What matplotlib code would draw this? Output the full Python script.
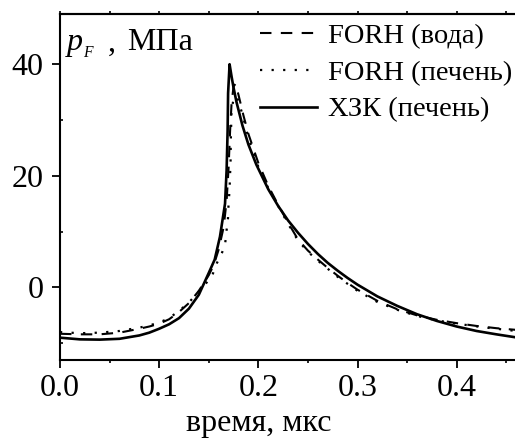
import matplotlib
matplotlib.use("Agg")
import matplotlib.pyplot as plt
from matplotlib.ticker import MultipleLocator, FuncFormatter

plt.rcParams['font.family'] = ['Liberation Serif', 'DejaVu Serif']
plt.rcParams['mathtext.fontset'] = 'custom'
plt.rcParams['mathtext.it'] = 'Liberation Serif:italic'
plt.rcParams['mathtext.rm'] = 'Liberation Serif'

# ХЗК (печень) - solid
t_kzk = [0.0, 0.02, 0.04, 0.06, 0.08, 0.09, 0.10, 0.11, 0.12, 0.13, 0.14, 0.15,
         0.156, 0.1613, 0.1664, 0.168, 0.169, 0.1695, 0.171, 0.173, 0.175, 0.178,
         0.184, 0.19, 0.198, 0.21, 0.22, 0.23, 0.24, 0.25, 0.26, 0.27, 0.28,
         0.29, 0.30, 0.32, 0.34, 0.36, 0.38, 0.40, 0.42, 0.44, 0.46]
p_kzk = [-9.0, -9.3, -9.35, -9.2, -8.6, -8.1, -7.4, -6.6, -5.5, -3.8, -1.3, 2.6,
         5.0, 9.1, 15.0, 21.0, 28.0, 34.8, 40.0, 37.8, 35.8, 33.2,
         29.0, 25.6, 22.0, 17.6, 14.6, 12.0, 9.8, 7.8, 6.0, 4.4, 3.0,
         1.7, 0.5, -1.6, -3.3, -4.8, -6.0, -7.0, -7.8, -8.4, -8.95]

# FORH (вода) - dashed
t_water = [0.0, 0.02, 0.04, 0.06, 0.08, 0.09, 0.10, 0.11, 0.12, 0.13, 0.14, 0.15,
           0.155, 0.16, 0.165, 0.168, 0.170, 0.1715, 0.173, 0.175, 0.177, 0.18,
           0.185, 0.19, 0.20, 0.21, 0.22, 0.23, 0.24, 0.25, 0.26, 0.27, 0.28,
           0.29, 0.30, 0.32, 0.34, 0.36, 0.38, 0.40, 0.42, 0.44, 0.46]
p_water = [-8.3, -8.4, -8.4, -8.1, -7.4, -7.0, -6.5, -5.7, -4.4, -2.8, -0.6, 2.2,
           4.0, 6.8, 10.8, 15.5, 21.5, 28.0, 33.0, 36.0, 36.5, 34.5,
           30.8, 27.5, 22.3, 18.2, 14.8, 11.6, 8.6, 6.6, 5.0, 3.5, 2.1,
           0.8, -0.4, -2.4, -3.9, -5.0, -5.8, -6.4, -6.9, -7.3, -7.6]

# FORH (печень) - dotted
t_liver = [0.0, 0.02, 0.04, 0.06, 0.08, 0.09, 0.10, 0.11, 0.12, 0.13, 0.14, 0.153,
           0.158, 0.1624, 0.1664, 0.168, 0.1694, 0.170, 0.171, 0.1714, 0.172, 0.1722,
           0.1726, 0.173, 0.1748, 0.177, 0.18, 0.185, 0.19, 0.20, 0.21, 0.22, 0.23,
           0.24, 0.25, 0.26, 0.28, 0.30, 0.32, 0.34, 0.36, 0.38, 0.40, 0.43, 0.46]
p_liver = [-8.0, -8.2, -8.1, -7.8, -7.2, -6.8, -6.3, -5.5, -4.2, -2.7, -0.7, 1.9,
           4.3, 5.8, 7.6, 10.3, 12.4, 15.1, 17.5, 19.8, 22.5, 26.0,
           29.0, 32.0, 33.5, 34.3, 33.5, 30.3, 26.8, 21.6, 17.8, 14.6, 11.4,
           8.4, 6.4, 4.8, 1.9, -0.6, -2.6, -4.0, -5.1, -5.9, -6.5, -7.2, -7.8]

labels = ['FORH (вода)', 'FORH (печень)', 'ХЗК (печень)']

fig = plt.figure(figsize=(5.15, 4.43), dpi=100)
ax = fig.add_axes([60/515, 1-360/443, 455/515, 346/443])

ax.plot(t_water, p_water, color='black', lw=1.5, dashes=(5.5, 4.5), label=labels[0])
ax.plot(t_liver, p_liver, color='black', lw=1.6, dashes=(1, 4.2), label=labels[1])
ax.plot(t_kzk, p_kzk, color='black', lw=1.9, label=labels[2])

ax.set_xlim(0, 0.4588)
ax.set_ylim(-13, 49)
ax.xaxis.set_major_locator(MultipleLocator(0.1))
ax.xaxis.set_minor_locator(MultipleLocator(0.05))
ax.yaxis.set_major_locator(MultipleLocator(20))
ax.yaxis.set_minor_locator(MultipleLocator(10))
ax.yaxis.set_major_formatter(FuncFormatter(lambda v, p: f'{v:.0f}'))

ax.spines['right'].set_visible(False)
for s in ['left', 'bottom', 'top']:
    ax.spines[s].set_linewidth(1.5)

ax.tick_params(axis='both', which='major', direction='out', length=6, width=1.3,
               labelsize=23, pad=4)
ax.tick_params(axis='y', which='major', pad=6)
ax.tick_params(axis='y', which='minor', direction='in', length=2, width=1.2)
ax.tick_params(axis='x', which='minor', direction='out', length=2, width=1.2)

# small ticks on the top spine
top = ax.secondary_xaxis('top')
top.xaxis.set_major_locator(MultipleLocator(0.05))
top.tick_params(direction='out', length=2, width=1.2, labeltop=False)
top.spines['top'].set_linewidth(1.5)

ax.set_xlabel('время, мкс', fontsize=23)
ax.xaxis.set_label_coords((259 - 60) / 455, -0.205, transform=ax.transAxes)
ax.xaxis.label.set_va('baseline')

def px(x):
    return (x - 60) / 455

ax.text(px(65), 0.895, r'$p_{_F}$', transform=ax.transAxes, fontsize=23,
        va='baseline', ha='left')
ax.text(px(108), 0.895, ',', transform=ax.transAxes, fontsize=23,
        va='baseline', ha='left')
ax.text(px(127), 0.895, 'МПа', transform=ax.transAxes, fontsize=23,
        va='baseline', ha='left')

leg = ax.legend(loc='upper right', bbox_to_anchor=(1.015, 1.0), frameon=False,
                fontsize=20.5, handlelength=1.97, handletextpad=0.42,
                labelspacing=0.38, borderaxespad=0.0, borderpad=0.32)

fig.savefig('out.png', dpi=100)
